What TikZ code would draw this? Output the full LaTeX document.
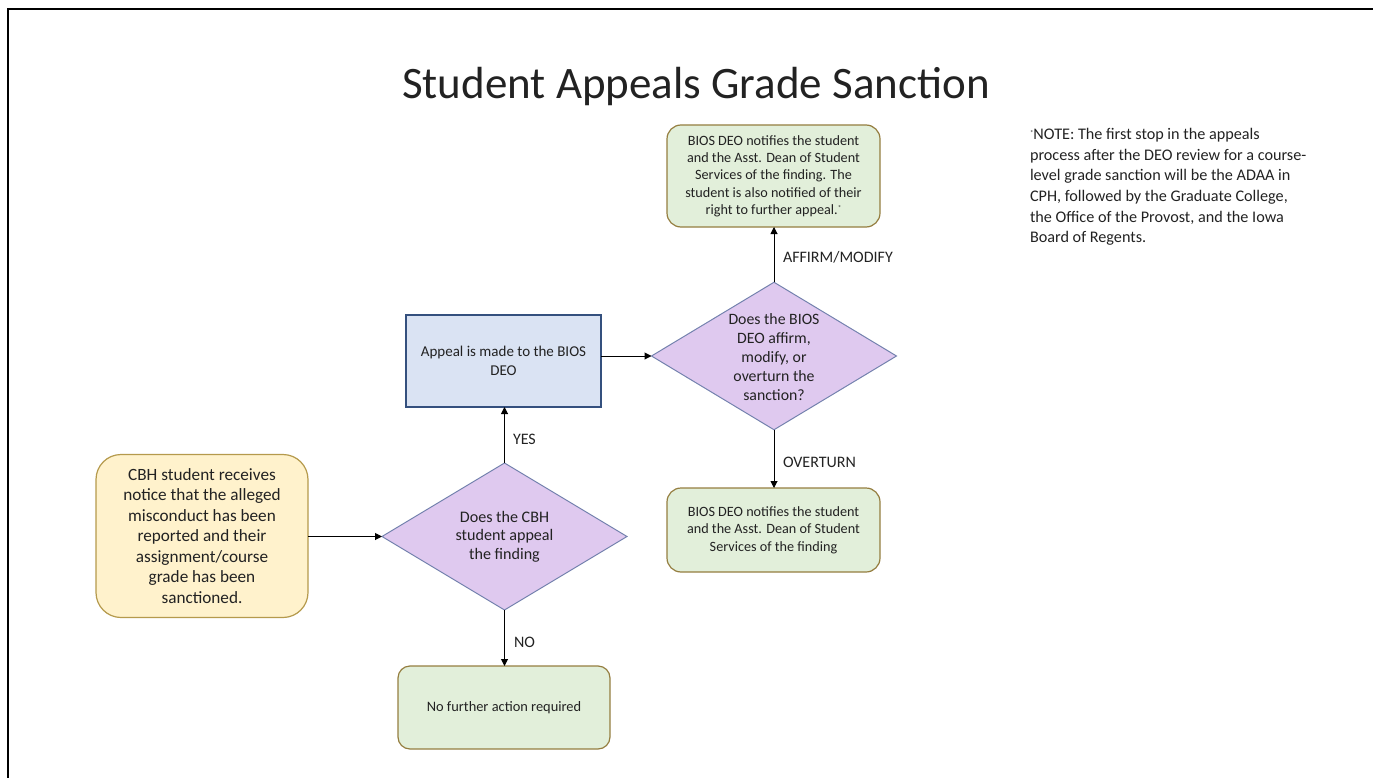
\documentclass[tikz,border=0pt]{standalone}
\usepackage{fontspec}
\setmainfont{Carlito}
\usetikzlibrary{shapes.geometric,arrows.meta}
\definecolor{txtc}{HTML}{222222}
\definecolor{yelfill}{HTML}{FFF2CC}
\definecolor{yeldraw}{HTML}{B59A4C}
\definecolor{grnfill}{HTML}{E2EFDA}
\definecolor{grndraw}{HTML}{957E40}
\definecolor{purfill}{HTML}{DFC9EF}
\definecolor{purdraw}{HTML}{7482AE}
\definecolor{blufill}{HTML}{DAE3F3}
\definecolor{bludraw}{HTML}{34507E}
\newcommand{\astmark}{{\fontsize{7}{7}\selectfont\raisebox{4pt}{*}}}
\begin{document}
\begin{tikzpicture}[x=1pt,y=-1pt,
  every node/.style={text=txtc, inner sep=0pt, outer sep=0pt},
  grnbox/.style={draw=grndraw, fill=grnfill, line width=1.2pt, rounded corners=14pt},
  yelbox/.style={draw=yeldraw, fill=yelfill, line width=1.2pt, rounded corners=25pt},
  blubox/.style={draw=bludraw, fill=blufill, line width=1.2pt},
  decis/.style={diamond, draw=purdraw, fill=purfill, line width=1pt},
  boxtxt/.style={align=center, font=\fontsize{14.2}{17.3}\selectfont},
  dectxt/.style={align=center, font=\fontsize{15.8}{19}\selectfont},
  lbl/.style={anchor=west, font=\fontsize{16}{18}\selectfont},
  arr/.style={-{Triangle[length=7pt,width=7pt]}, line width=1pt, draw=black}
]
\useasboundingbox (0,0) rectangle (1373,778);
\coordinate (fa) at (8,790);
\coordinate (fb) at (8,9);
\coordinate (fc) at (1390,9);
\draw[line width=2pt, black] (fa) -- (fb) -- (fc);

\node[anchor=base, font=\fontsize{45}{50}\selectfont] (title) at (696,99) {Student Appeals Grade Sanction};

\node[align=left, anchor=west, font=\fontsize{16.2}{20.7}\selectfont] (note) at (1030,187)
 {\astmark NOTE: The first stop in the appeals\\process after the DEO review for a course-\\level grade sanction will be the ADAA in\\CPH, followed by the Graduate College,\\the Office of the Provost, and the Iowa\\Board of Regents.};

% top green box
\node[grnbox, minimum width=213pt, minimum height=102pt] (aff) at (773.5,176) {};
\node[boxtxt] (afft) at (aff.center) {BIOS DEO notifies the student\\and the Asst. Dean of Student\\Services of the finding. The\\student is also notified of their\\right to further appeal.\astmark};

% bottom green box
\node[grnbox, minimum width=213pt, minimum height=84pt] (ovr) at (773.5,530) {};
\node[boxtxt] (ovrt) at (ovr.center) {BIOS DEO notifies the student\\and the Asst. Dean of Student\\Services of the finding};

% blue box
\node[blubox, minimum width=195pt, minimum height=92pt] (app) at (503.5,361) {};
\node[align=center, font=\fontsize{15}{18.5}\selectfont] (appt) at (app.center) {Appeal is made to the BIOS\\DEO};

% yellow box
\node[yelbox, minimum width=212pt, minimum height=163pt] (start) at (202,536) {};
\node[align=center, font=\fontsize{17.2}{20.5}\selectfont] (startt) at (start.center) {CBH student receives\\notice that the alleged\\misconduct has been\\reported and their\\assignment/course\\grade has been\\sanctioned.};

% diamond 1
\node[decis, minimum width=245pt, minimum height=147pt] (q1) at (504.5,536.5) {};
\node[dectxt, font=\fontsize{16.1}{18.7}\selectfont] (q1t) at (q1.center) {Does the CBH\\student appeal\\the finding};

% diamond 2
\node[decis, minimum width=245pt, minimum height=147.5pt] (q2) at (774,356) {};
\node[dectxt] (q2t) at (774,357) {Does the BIOS\\DEO affirm,\\modify, or\\overturn the\\sanction?};

% no further action
\node[grnbox, rounded corners=12pt, minimum width=212pt, minimum height=83pt] (nofa) at (504,707.5) {};
\node[align=center, font=\fontsize{14.4}{17}\selectfont] (nofat) at (nofa.center) {No further action required};

% connectors
\draw[arr] (q1.west -| start.east) -- (q1.west);
\draw[arr] (q1.north) -- (q1.north |- app.south);
\draw[arr] (q2.west -| app.east) -- (q2.west);
\draw[arr] (q2.north) -- (q2.north |- aff.south);
\draw[arr] (q2.south) -- (q2.south |- ovr.north);
\draw[arr] (q1.south) -- (q1.south |- nofa.north);

% labels
\node[lbl] (yes) at (513,439) {YES};
\node[lbl] (no) at (514,642) {NO};
\node[lbl] (affl) at (783,257) {AFFIRM/MODIFY};
\node[lbl] (ovrl) at (783,462) {OVERTURN};
\end{tikzpicture}
\end{document}
